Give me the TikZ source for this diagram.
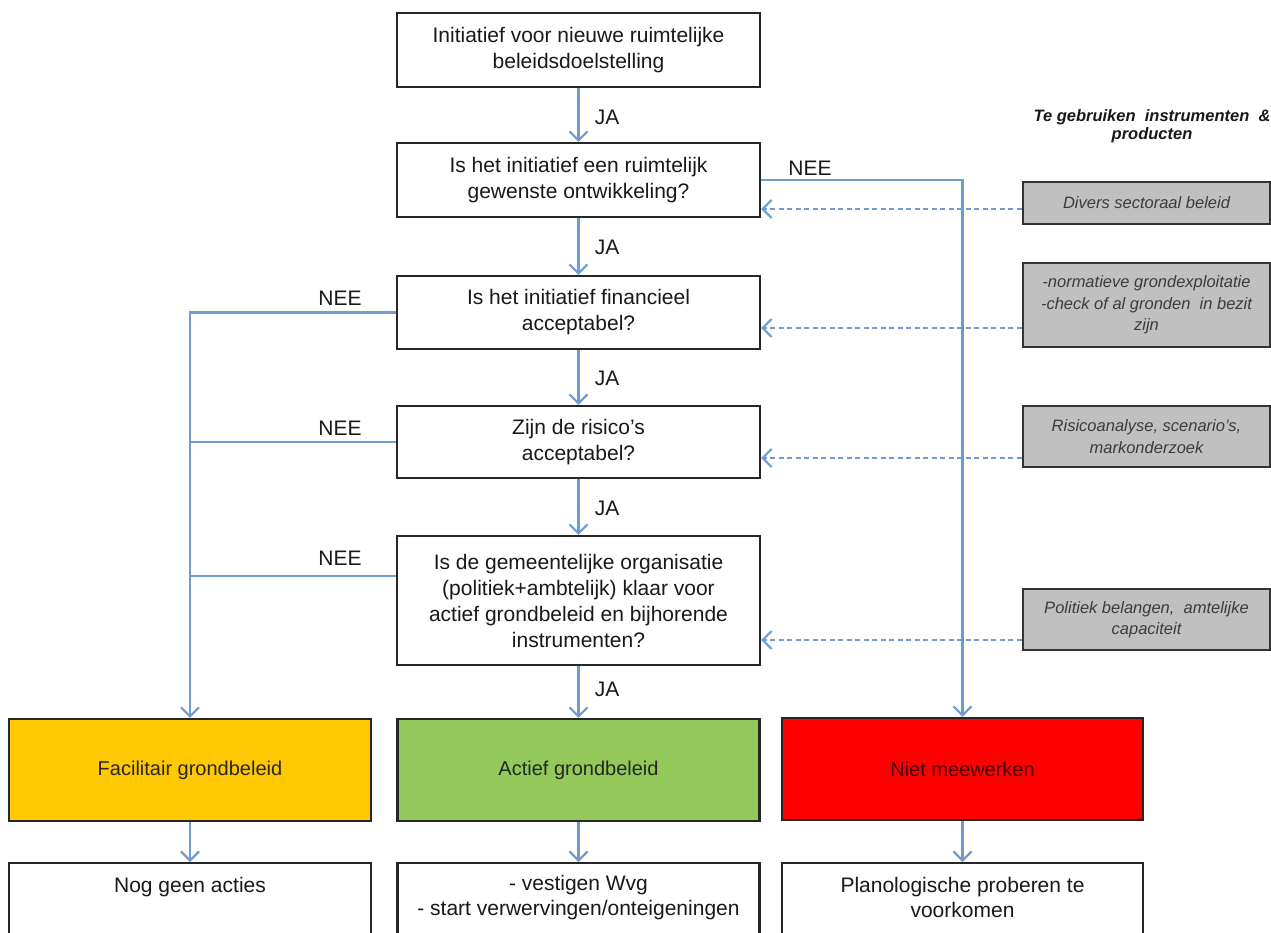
\documentclass[tikz,border=0pt]{standalone}
\usepackage{fontspec}
\setmainfont{Liberation Sans}
\usetikzlibrary{arrows.meta,calc}
\definecolor{lineblue}{HTML}{6F9BD0}
\definecolor{gboxfill}{HTML}{C0C0C0}
\definecolor{ygold}{HTML}{FFC800}
\definecolor{agreen}{HTML}{92C95A}
\definecolor{nred}{HTML}{FF0000}
\definecolor{txtgray}{HTML}{3C3C3C}
\begin{document}
\begin{tikzpicture}[x=1pt,y=-1pt,
  mainbox/.style={draw=black!85,line width=2.2pt,minimum width=363pt,inner sep=0pt,align=center,font=\fontsize{21}{26}\selectfont,text=black!90},
  colbox/.style={draw=black!85,line width=2.2pt,minimum width=362pt,minimum height=102pt,inner sep=0pt,align=center,font=\fontsize{20}{25}\selectfont},
  botbox/.style={draw=black!85,line width=2.2pt,minimum width=362pt,minimum height=110pt,inner sep=0pt,anchor=north},
  bottxt/.style={anchor=north,align=center,inner sep=0pt,font=\fontsize{21}{25}\selectfont,text=black!90},
  graybox/.style={draw=black!80,line width=2.2pt,fill=gboxfill,minimum width=247pt,inner sep=0pt,align=center,font=\itshape\fontsize{16.5}{21.5}\selectfont,text=txtgray},
  lbl/.style={font=\fontsize{21}{25}\selectfont,text=black!90,inner sep=0pt},
  flow/.style={draw=lineblue,line width=2.2pt,-{Straight Barb[length=9pt,width=18pt]}},
  plain/.style={draw=lineblue,line width=2.2pt},
  dasharr/.style={draw=lineblue,line width=2.2pt,dash pattern=on 5pt off 3.5pt,-{Straight Barb[length=9pt,width=18pt]}}
]
\clip (0,0) rectangle (1271,932);
\fill[white] (0,0) rectangle (1271,932);

% main column
\node[mainbox,minimum height=74pt] (b1) at (578.5,50) {Initiatief voor nieuwe ruimtelijke\\beleidsdoelstelling};
\node[mainbox,minimum height=74pt] (b2) at (578.5,180) {Is het initiatief een ruimtelijk\\gewenste ontwikkeling?};
\node[mainbox,minimum height=73pt] (b3) at (578.5,312.5) {Is het initiatief financieel\\acceptabel?};
\node[mainbox,minimum height=72pt] (b4) at (578.5,442) {Zijn de risico's\\acceptabel?};
\node[mainbox,minimum height=129pt] (b5) at (578.5,600.5) {Is de gemeentelijke organisatie\\(politiek+ambtelijk) klaar voor\\actief grondbeleid en bijhorende\\instrumenten?};

% coloured outcomes
\node[colbox,fill=ygold,text=black!85] (fac) at (190,770) {Facilitair grondbeleid};
\node[colbox,fill=agreen,text=black!85] (act) at (578.5,770) {Actief grondbeleid};
\node[colbox,fill=nred,minimum width=361pt,text={rgb,255:red,70;green,0;blue,0}] (niet) at (962.5,769) {Niet meewerken};

% bottom boxes
\node[botbox] (n1) at (190,862) {};
\node[botbox] (n2) at (578.5,862) {};
\node[botbox,minimum width=361pt] (n3) at (962.5,862) {};
\node[bottxt] (t1) at ([yshift=-15pt]n1.north) {Nog geen acties};
\node[bottxt] (t2) at ([yshift=-13pt]n2.north) {- vestigen Wvg\\- start verwervingen/onteigeningen};
\node[bottxt] (t3) at ([yshift=-15pt]n3.north) {Planologische proberen te\\voorkomen};

% gray instrument boxes
\node[font=\bfseries\itshape\fontsize{16.5}{18.5}\selectfont,align=center,inner sep=0pt,text=black!90] (title) at (1152,126) {Te gebruiken\ \ instrumenten\ \ \&\\producten};
\node[graybox,minimum height=42pt] (g1) at (1146.5,203) {Divers sectoraal beleid};
\node[graybox,minimum height=84pt] (g2) at (1146.5,305) {-normatieve grondexploitatie\\-check of al gronden\ \ in bezit\\zijn};
\node[graybox,minimum height=61pt] (g3) at (1146.5,436.5) {Risicoanalyse, scenario's,\\markonderzoek};
\node[graybox,minimum height=61pt] (g4) at (1146.5,619.5) {Politiek belangen,\ \ amtelijke\\capaciteit};

% JA arrows
\draw[flow] (b1.south) -- (b2.north);
\draw[flow] (b2.south) -- (b3.north);
\draw[flow] (b3.south) -- (b4.north);
\draw[flow] (b4.south) -- (b5.north);
\draw[flow] (b5.south) -- (act.north);
\node[lbl] (ja1) at (607,117) {JA};
\node[lbl] (ja2) at (607,247) {JA};
\node[lbl] (ja3) at (607,378) {JA};
\node[lbl] (ja4) at (607,508) {JA};
\node[lbl] (ja5) at (607,689) {JA};

% outcome arrows
\draw[flow] (fac.south) -- (n1.north);
\draw[flow] (act.south) -- (n2.north);
\draw[flow] (niet.south) -- (n3.north);

% NEE branches
\draw[flow] (b2.east) -| (niet.north);
\node[lbl] (nee0) at (810,168) {NEE};
\draw[flow] (b3.west) -| (fac.north);
\node[lbl] (nee1) at (340,298) {NEE};
\draw[plain] (b4.west) -- (b4.west -| fac.north);
\node[lbl] (nee2) at (340,428) {NEE};
\draw[plain] ([yshift=24.5pt]b5.west) -- ([yshift=24.5pt]b5.west -| fac.north);
\node[lbl] (nee3) at (340,558) {NEE};

% dashed instrument arrows
\draw[dasharr] ([yshift=-6pt]g1.west) -- ([yshift=-6pt]g1.west -| b2.east);
\draw[dasharr] ([yshift=-23pt]g2.west) -- ([yshift=-23pt]g2.west -| b3.east);
\draw[dasharr] ([yshift=-21.5pt]g3.west) -- ([yshift=-21.5pt]g3.west -| b4.east);
\draw[dasharr] ([yshift=-20.5pt]g4.west) -- ([yshift=-20.5pt]g4.west -| b5.east);
\end{tikzpicture}
\end{document}
